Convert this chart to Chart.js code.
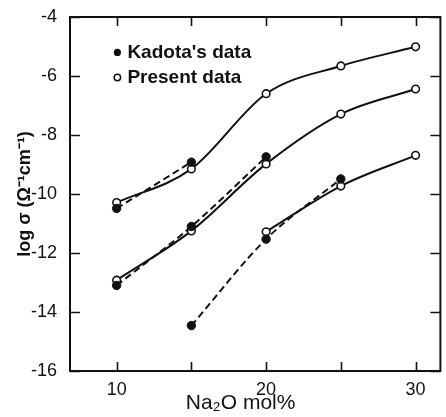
<!DOCTYPE html>
<html>
<head>
<meta charset="utf-8">
<script src="https://cdn.jsdelivr.net/npm/chart.js@4/dist/chart.umd.min.js"></script>
<style>
  html, body { margin: 0; padding: 0; background: #fff; }
  #wrap { width: 446px; height: 417px; }
</style>
</head>
<body>
<div id="wrap"><canvas id="c" width="446" height="417"></canvas></div>
<script>
// ---- data ----
const xTicks = [10, 15, 20, 25, 30];
const xLabelled = [10, 20, 30];
const yTicks = [-4, -6, -8, -10, -12, -14, -16];

const presentHighX = [10, 15, 20, 25, 30];
const presentHighY = [-10.29, -9.15, -6.60, -5.66, -5.01];
const kadotaHighX = [10, 15];
const kadotaHighY = [-10.49, -8.92];

const presentMidX = [10, 15, 20, 25, 30];
const presentMidY = [-12.92, -11.25, -8.98, -7.29, -6.44];
const kadotaMidX = [10, 15, 20];
const kadotaMidY = [-13.10, -11.10, -8.74];

const presentLowX = [20, 25, 30];
const presentLowY = [-11.28, -9.73, -8.69];
const kadotaLowX = [15, 20, 25];
const kadotaLowY = [-14.46, -11.53, -9.49];

const legendLabels = ["Kadota's data", "Present data"];
const xTitle = "Na\u2082O mol%";
const yTitle = "log \u03c3 (\u03a9\u207b\u00b9cm\u207b\u00b9)";

const pts = (xs, ys) => xs.map((x, i) => ({ x: x, y: ys[i] }));
const FONT = "'Liberation Sans', Arial, sans-serif";
const INK = '#111';

function kadota(xs, ys) {
  return {
    data: pts(xs, ys), borderColor: INK, borderWidth: 2, borderDash: [7, 4],
    pointRadius: 4.2, pointBackgroundColor: INK, pointBorderColor: INK, pointBorderWidth: 1,
    cubicInterpolationMode: 'monotone', fill: false
  };
}
function present(xs, ys) {
  return {
    data: pts(xs, ys), borderColor: INK, borderWidth: 2,
    pointRadius: 3.8, pointBackgroundColor: '#fff', pointBorderColor: INK, pointBorderWidth: 1.6,
    cubicInterpolationMode: 'monotone', fill: false
  };
}

const frameTicks = {
  id: 'frameTicks',
  afterDatasetsDraw(chart) {
    const { ctx, chartArea: a, scales: { x, y } } = chart;
    ctx.save();
    ctx.strokeStyle = INK;
    ctx.lineWidth = 1.6;
    ctx.beginPath();
    xTicks.forEach(v => {
      const px = Math.round(x.getPixelForValue(v)) + 0.5;
      ctx.moveTo(px, a.bottom); ctx.lineTo(px, a.bottom - 9);
      ctx.moveTo(px, a.top); ctx.lineTo(px, a.top + 9);
    });
    yTicks.forEach(v => {
      const py = Math.round(y.getPixelForValue(v)) + 0.5;
      ctx.moveTo(a.left, py); ctx.lineTo(a.left + 10, py);
      ctx.moveTo(a.right, py); ctx.lineTo(a.right - 10, py);
    });
    ctx.stroke();
    ctx.lineWidth = 2;
    ctx.strokeRect(a.left, a.top, a.right - a.left, a.bottom - a.top);
    // legend
    const lx = x.getPixelForValue(10.05);
    const ly1 = y.getPixelForValue(-5.2), ly2 = y.getPixelForValue(-6.05);
    ctx.fillStyle = INK;
    ctx.beginPath(); ctx.arc(lx, ly1, 3.6, 0, Math.PI * 2); ctx.fill();
    ctx.beginPath(); ctx.arc(lx, ly2, 3.2, 0, Math.PI * 2);
    ctx.fillStyle = '#fff'; ctx.fill(); ctx.lineWidth = 1.5; ctx.stroke();
    ctx.fillStyle = INK;
    ctx.font = "bold 19px " + FONT;
    ctx.textBaseline = 'middle';
    ctx.textAlign = 'left';
    ctx.fillText(legendLabels[0], lx + 10, ly1);
    ctx.fillText(legendLabels[1], lx + 10, ly2);
    ctx.restore();
  }
};

new Chart(document.getElementById('c'), {
  type: 'line',
  data: {
    datasets: [
      kadota(kadotaHighX, kadotaHighY),
      kadota(kadotaMidX, kadotaMidY),
      kadota(kadotaLowX, kadotaLowY),
      present(presentHighX, presentHighY),
      present(presentMidX, presentMidY),
      present(presentLowX, presentLowY)
    ]
  },
  options: {
    responsive: false,
    animation: false,
    devicePixelRatio: 1,
    layout: { padding: { left: 0, top: 17, right: 3, bottom: 0 } },
    plugins: { legend: { display: false }, tooltip: { enabled: false } },
    scales: {
      x: {
        type: 'linear', min: 6.88, max: 31.66,
        afterBuildTicks: s => { s.ticks = xLabelled.map(v => ({ value: v })); },
        afterFit: s => { s.height = 46; },
        grid: { display: false },
        border: { display: true, color: INK, width: 2 },
        ticks: { color: INK, padding: 0, maxRotation: 0, font: { family: FONT, size: 18 } },
        title: { display: true, text: xTitle + '     ', color: INK, padding: { top: 0, bottom: 1 },
                 font: { family: FONT, size: 21 } }
      },
      y: {
        type: 'linear', min: -16, max: -4,
        afterBuildTicks: s => { s.ticks = yTicks.map(v => ({ value: v })); },
        afterFit: s => { s.width = 70; },
        grid: { display: false },
        border: { display: true, color: INK, width: 2 },
        ticks: { color: INK, padding: 5, callback: v => String(v), font: { family: FONT, size: 18 } },
        title: { display: true, text: yTitle, color: INK, padding: { top: 14, bottom: 0 },
                 font: { family: FONT, size: 18, weight: 'bold' } }
      }
    }
  },
  plugins: [frameTicks]
});
</script>
</body>
</html>
